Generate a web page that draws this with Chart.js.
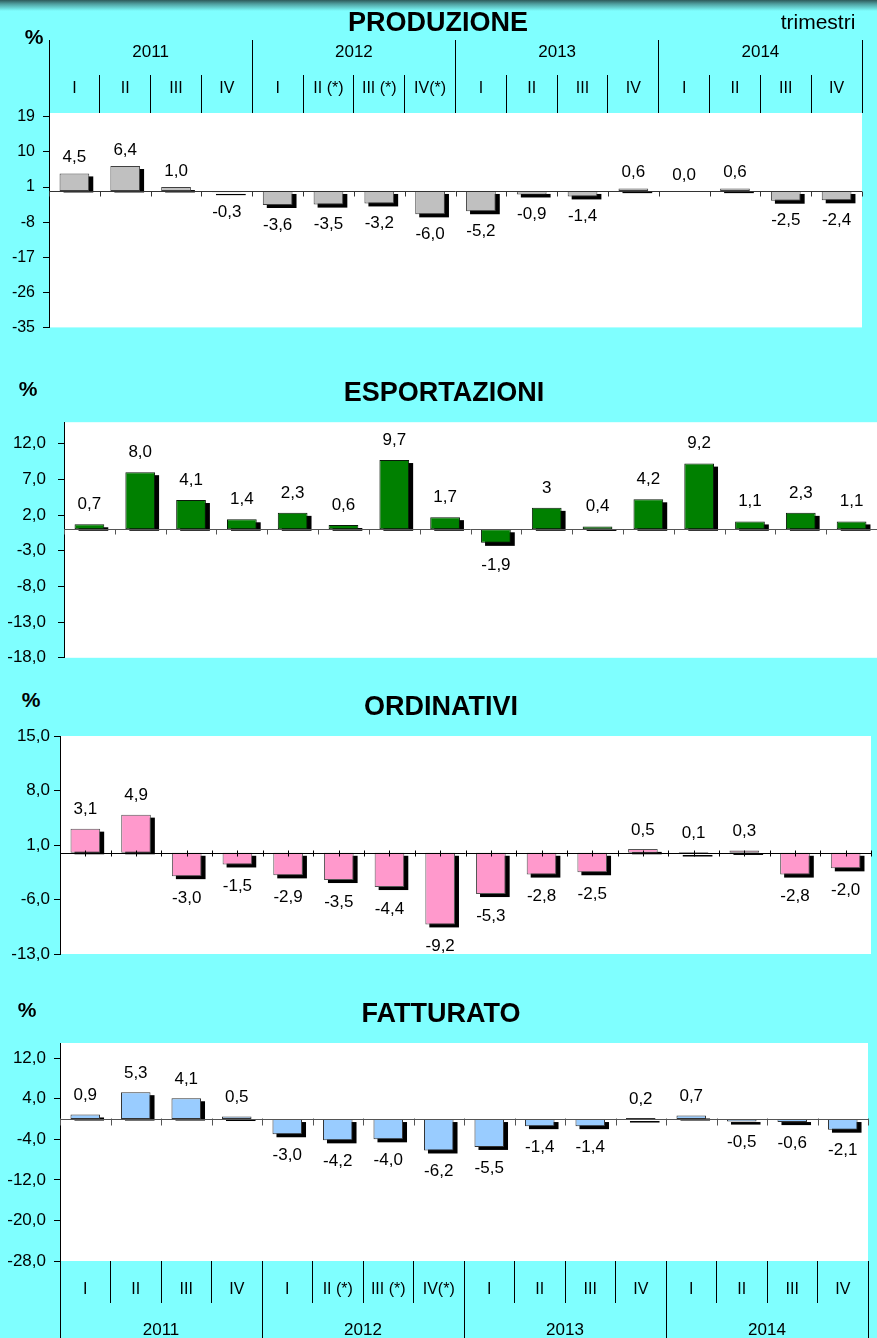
<!DOCTYPE html>
<html><head><meta charset="utf-8">
<script src="https://cdn.jsdelivr.net/npm/chart.js@4.4.1/dist/chart.umd.min.js"></script>
<style>
html,body{margin:0;padding:0;}
body{width:877px;height:1338px;position:relative;overflow:hidden;background:#7fffff;font-family:"Liberation Sans",Arial,sans-serif;}
#topbar{position:absolute;left:0;top:0;width:877px;height:12px;background:linear-gradient(to bottom,#2e5a5b 0px,#4f9fa0 4px,#7fffff 11px);}
.t{position:absolute;transform:translate(-50%,-50%);white-space:nowrap;color:#000;line-height:1;}
.title{font-weight:bold;font-size:27px;}
.pct{font-weight:bold;font-size:21px;}
.trim{font-size:21px;}
canvas{position:absolute;left:0;}
</style></head><body>
<div id="topbar"></div>
<canvas id="c1" width="877" height="345" style="top:0px"></canvas>
<canvas id="c2" width="877" height="280" style="top:400px"></canvas>
<canvas id="c3" width="877" height="250" style="top:720px"></canvas>
<canvas id="c4" width="877" height="318" style="top:1020px"></canvas>

<div class="t title" style="left:438px;top:22px">PRODUZIONE</div>
<div class="t trim" style="left:818px;top:21px">trimestri</div>
<div class="t pct" style="left:34px;top:36px">%</div>
<div class="t title" style="left:444px;top:392px">ESPORTAZIONI</div>
<div class="t pct" style="left:28px;top:388px">%</div>
<div class="t title" style="left:441px;top:706px">ORDINATIVI</div>
<div class="t pct" style="left:31px;top:699px">%</div>
<div class="t title" style="left:441px;top:1013px">FATTURATO</div>
<div class="t pct" style="left:27px;top:1009px">%</div>

<script>
// ---- data ----
const quarters = ['I','II','III','IV','I','II (*)','III (*)','IV(*)','I','II','III','IV','I','II','III','IV'];
const years = ['2011','2012','2013','2014'];

const produzione   = [4.5, 6.4, 1.0, -0.3, -3.6, -3.5, -3.2, -6.0, -5.2, -0.9, -1.4, 0.6, 0.0, 0.6, -2.5, -2.4];
const esportazioni = [0.7, 8.0, 4.1, 1.4, 2.3, 0.6, 9.7, 1.7, -1.9, 3, 0.4, 4.2, 9.2, 1.1, 2.3, 1.1];
const ordinativi   = [3.1, 4.9, -3.0, -1.5, -2.9, -3.5, -4.4, -9.2, -5.3, -2.8, -2.5, 0.5, 0.1, 0.3, -2.8, -2.0];
const fatturato    = [0.9, 5.3, 4.1, 0.5, -3.0, -4.2, -4.0, -6.2, -5.5, -1.4, -1.4, 0.2, 0.7, -0.5, -0.6, -2.1];

// printed label that differs from the one-decimal format
const esportazioniLabelText = {9: '3'};

const ticksProduzione   = [19, 10, 1, -8, -17, -26, -35];
const ticksEsportazioni = [12, 7, 2, -3, -8, -13, -18];
const ticksOrdinativi   = [15, 8, 1, -6, -13];
const ticksFatturato    = [12, 4, -4, -12, -20, -28];

// ---- helpers ----
const FONT = '"Liberation Sans", Arial, sans-serif';
const fmt1 = v => Number(v).toFixed(1).replace('.', ',');
const fmt0 = v => String(v);

const bgPlugin = {
  id: 'areaBg',
  beforeDraw(chart) {
    const {ctx, chartArea: a} = chart;
    ctx.save();
    ctx.fillStyle = '#ffffff';
    ctx.fillRect(a.left, a.top, a.right - a.left, a.bottom - a.top);
    ctx.restore();
  }
};

const shadowPlugin = {
  id: 'barShadow',
  beforeDatasetsDraw(chart) {
    const ctx = chart.ctx;
    const vals = chart.data.datasets[0].data;
    ctx.save();
    ctx.fillStyle = '#000';
    chart.getDatasetMeta(0).data.forEach((el, i) => {
      const {x, y, base, width} = el.getProps(['x', 'y', 'base', 'width'], true);
      if (Math.abs(base - y) < 0.5) return;
      const left = x - width / 2 + 4;
      if (vals[i] >= 0) ctx.fillRect(left, y + 3, width, Math.max(base + 1.5 - (y + 3), 1.5));
      else ctx.fillRect(left, base + 3, width, y - base);
    });
    ctx.restore();
  }
};

const zeroLinePlugin = {
  id: 'zeroLine',
  afterDatasetsDraw(chart, args, opts) {
    const {ctx, chartArea: a} = chart;
    const xs = chart.scales.x, ys = chart.scales.y;
    const y0 = Math.round(ys.getPixelForValue(0)) + 0.5;
    const sub = opts.sub || 1;
    const n = chart.data.labels.length;
    ctx.save();
    ctx.strokeStyle = opts.color || '#333';
    ctx.lineWidth = 1;
    ctx.beginPath();
    ctx.moveTo(a.left, y0);
    ctx.lineTo(a.right, y0);
    for (let k = 0; k <= n * sub; k++) {
      const px = Math.round(xs.getPixelForValue(k / sub - 0.5)) + 0.5;
      ctx.moveTo(px, y0 - (opts.up || 0));
      ctx.lineTo(px, y0 + (opts.down || 0));
    }
    ctx.stroke();
    ctx.restore();
  }
};

const valueLabelPlugin = {
  id: 'valueLabels',
  afterDatasetsDraw(chart, args, opts) {
    const ctx = chart.ctx;
    const vals = chart.data.datasets[0].data;
    const over = opts.text || {};
    ctx.save();
    ctx.font = (opts.size || 17) + 'px ' + FONT;
    ctx.fillStyle = '#000';
    ctx.textAlign = 'center';
    ctx.textBaseline = 'middle';
    chart.getDatasetMeta(0).data.forEach((el, i) => {
      const v = vals[i];
      const txt = over[i] !== undefined ? over[i] : fmt1(v);
      const yy = v >= 0 ? el.y - opts.above : el.y + opts.below;
      ctx.fillText(txt, el.x, yy);
    });
    ctx.restore();
  }
};

function catAxis(position, labels, tickLen, height, size, pad, weight) {
  const ax = {
    type: 'category',
    position: position,
    offset: true,
    weight: weight,
    grid: {offset: true, drawOnChartArea: false, drawTicks: true, tickLength: tickLen, color: '#000', lineWidth: 1},
    border: {display: false},
    ticks: {font: {family: FONT, size: size}, color: '#000', padding: pad, autoSkip: false, maxRotation: 0, minRotation: 0},
    afterFit: s => { s.height = height; }
  };
  if (labels) ax.labels = labels;
  return ax;
}

function makeChart(id, cfg) {
  const scales = {
    y: {
      min: cfg.min, max: cfg.max,
      afterBuildTicks: s => { s.ticks = cfg.ticks.map(v => ({value: v})); },
      afterFit: s => { s.width = cfg.axisLeft; },
      ticks: {font: {family: FONT, size: cfg.tickSize}, color: '#000', padding: cfg.tickPad, autoSkip: false,
              callback: v => cfg.tickFmt(v)},
      grid: {drawOnChartArea: false, tickLength: 6, color: '#000', lineWidth: 1},
      border: {display: true, color: '#000', width: 1}
    }
  };
  if (cfg.xPos) {
    scales.x = catAxis(cfg.xPos, null, cfg.qLen, cfg.qLen, 16, cfg.qPad, 0);
    scales.x2 = catAxis(cfg.xPos, years, cfg.yLen, cfg.yLen, 17, cfg.yPad, 1);
  } else {
    scales.x = {type: 'category', offset: true, display: false};
  }
  return new Chart(document.getElementById(id), {
    type: 'bar',
    data: {
      labels: quarters,
      datasets: [{
        data: cfg.values,
        backgroundColor: cfg.color,
        borderColor: cfg.border,
        borderWidth: 1,
        borderSkipped: false,
        barPercentage: 0.585,
        categoryPercentage: 1
      }]
    },
    options: {
      responsive: false,
      animation: false,
      devicePixelRatio: 1,
      layout: {padding: cfg.padding},
      plugins: {
        legend: {display: false},
        tooltip: {enabled: false},
        title: {display: false},
        zeroLine: cfg.zero,
        valueLabels: cfg.labels
      },
      scales: scales
    },
    plugins: [bgPlugin, shadowPlugin, zeroLinePlugin, valueLabelPlugin]
  });
}

// PRODUZIONE
makeChart('c1', {
  values: produzione, color: '#c0c0c0', border: '#404040',
  min: -35, max: 20, ticks: ticksProduzione, tickFmt: fmt0, tickSize: 16, tickPad: 8,
  axisLeft: 49, padding: {top: 40, bottom: 17, left: 0, right: 15},
  xPos: 'top', qLen: 38, qPad: -22.9, yLen: 35, yPad: -22.2,
  zero: {down: 5, up: 0, sub: 1, color: '#333'},
  labels: {above: 16, below: 20, size: 17}
});

// ESPORTAZIONI
makeChart('c2', {
  values: esportazioni, color: '#008000', border: '#0a1a0a',
  min: -18, max: 15, ticks: ticksEsportazioni, tickFmt: fmt1, tickSize: 17, tickPad: 12,
  axisLeft: 64, padding: {top: 20, bottom: 17, left: 0, right: 0},
  zero: {down: 5, up: 0, sub: 1, color: '#555'},
  labels: {above: 20, below: 22, size: 17, text: esportazioniLabelText}
});

// ORDINATIVI
makeChart('c3', {
  values: ordinativi, color: '#ff99cc', border: '#555555',
  min: -13, max: 15, ticks: ticksOrdinativi, tickFmt: fmt1, tickSize: 17, tickPad: 4,
  axisLeft: 60, padding: {top: 16, bottom: 16, left: 0, right: 6},
  zero: {down: 3, up: 3, sub: 2, color: '#000'},
  labels: {above: 19, below: 22, size: 17}
});

// FATTURATO
makeChart('c4', {
  values: fatturato, color: '#99ccff', border: '#333333',
  min: -28, max: 15, ticks: ticksFatturato, tickFmt: fmt1, tickSize: 17, tickPad: 8,
  axisLeft: 60, padding: {top: 23, bottom: 0, left: 0, right: 9},
  xPos: 'bottom', qLen: 42, qPad: -22.6, yLen: 35, yPad: -18.2,
  zero: {down: 6, up: 1, sub: 1, color: '#555'},
  labels: {above: 19, below: 21, size: 17}
});
</script>
</body></html>
